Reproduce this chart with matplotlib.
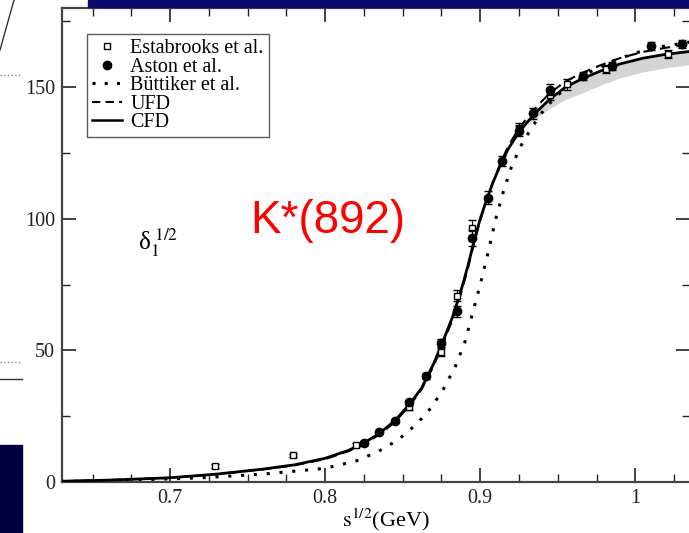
import matplotlib.pyplot as plt
import matplotlib.patches as mpatches
from matplotlib.lines import Line2D
from matplotlib.ticker import MultipleLocator

plt.rcParams['font.family'] = ['Liberation Serif', 'DejaVu Serif']
plt.rcParams['mathtext.fontset'] = 'stix'

# Estabrooks et al. (open squares)
est_x = [0.729, 0.779, 0.820, 0.854, 0.875, 0.885, 0.895, 0.925, 0.945, 0.956, 0.981, 1.021]
est_y = [6.1, 10.2, 14.0, 28.4, 49.5, 70.8, 96.5, 134.5, 147.0, 151.0, 157.0, 162.5]
est_err = [0.6, 0.6, 0.8, 1.0, 1.5, 2.0, 3.0, 2.0, 2.0, 2.0, 1.5, 1.5]

# Aston et al. (filled circles)
ast_x = [0.825, 0.835, 0.845, 0.854, 0.865, 0.875, 0.885, 0.895, 0.905, 0.914,
         0.925, 0.934, 0.945, 0.966, 0.985, 1.010, 1.030]
ast_y = [14.8, 18.9, 23.1, 30.3, 40.2, 52.7, 64.8, 92.8, 108.0, 122.0,
         133.3, 140.0, 149.0, 154.2, 158.0, 165.5, 166.3]
ast_err = [0.8, 0.8, 0.8, 1.0, 1.2, 1.5, 2.0, 3.0, 2.5, 2.0,
           2.0, 2.0, 2.0, 1.5, 1.5, 1.5, 1.5]

# CFD (solid)
cfd_x = [0.630, 0.660, 0.700, 0.730, 0.760, 0.780, 0.800, 0.815, 0.825, 0.835,
         0.845, 0.855, 0.862, 0.870, 0.876, 0.882, 0.887, 0.892, 0.896, 0.900,
         0.904, 0.908, 0.913, 0.918, 0.924, 0.930, 0.937, 0.945, 0.955, 0.965,
         0.977, 0.990, 1.005, 1.020, 1.036]
cfd_y = [0.3, 0.7, 1.6, 3.0, 4.9, 6.5, 9.0, 12.0, 14.8, 18.5,
         23.3, 30.0, 35.5, 45.0, 53.5, 62.5, 71.5, 82.0, 91.5, 100.0,
         107.0, 113.5, 120.5, 126.5, 132.0, 136.5, 141.0, 145.5, 150.0, 153.0,
         156.0, 158.8, 161.0, 162.5, 163.6]

# UFD (dashed)
ufd_x = [0.630, 0.660, 0.700, 0.730, 0.760, 0.780, 0.800, 0.815, 0.825, 0.835,
         0.845, 0.855, 0.862, 0.870, 0.876, 0.882, 0.887, 0.892, 0.896, 0.900,
         0.904, 0.908, 0.913, 0.918, 0.924, 0.930, 0.937, 0.945, 0.955, 0.965,
         0.977, 0.990, 1.005, 1.020, 1.036]
ufd_y = [0.3, 0.7, 1.6, 2.9, 4.8, 6.3, 8.7, 11.7, 14.4, 18.0,
         22.8, 29.4, 35.0, 44.2, 52.5, 61.5, 70.5, 81.0, 90.8, 99.5,
         106.8, 113.5, 121.0, 127.5, 133.5, 138.2, 143.0, 147.8, 152.2, 155.2,
         158.2, 161.0, 163.4, 165.0, 166.3]

# Buttiker et al. (dotted)
but_x = [0.630, 0.680, 0.720, 0.760, 0.800, 0.820, 0.834, 0.847, 0.859, 0.868,
         0.876, 0.884, 0.890, 0.895, 0.900, 0.905, 0.910, 0.915, 0.920, 0.926,
         0.933, 0.940, 0.948, 0.958, 0.970, 0.985, 1.000, 1.018, 1.036]
but_y = [0.2, 0.8, 1.6, 3.0, 5.2, 8.0, 11.5, 16.0, 22.0, 28.0,
         35.0, 44.0, 53.0, 64.0, 75.0, 87.0, 100.0, 110.5, 119.5, 127.5,
         134.5, 140.5, 146.0, 151.0, 155.5, 159.8, 163.0, 165.5, 167.2]

# uncertainty band around CFD
band_x = [0.930, 0.945, 0.956, 0.965, 0.977, 0.990, 1.005, 1.020, 1.036]
band_lo = [135.5, 142.0, 145.6, 147.6, 150.6, 153.5, 155.8, 157.4, 158.6]
band_hi = [137.5, 146.5, 151.2, 153.2, 156.2, 159.0, 161.3, 163.0, 164.3]

fig = plt.figure(figsize=(6.89, 5.33), dpi=100)
ax = fig.add_axes([0.090, 0.0957, 0.912, 0.889])

ax.fill_between(band_x, band_lo, band_hi, color='#d4d4d4', lw=0, zorder=1)
ax.plot(but_x, but_y, color='black', ls=(0, (1, 3.2)), lw=2.2, zorder=2)
ax.plot(ufd_x, ufd_y, color='black', ls=(0, (5, 3)), lw=1.5, zorder=2)
ax.plot(cfd_x, cfd_y, color='black', ls='-', lw=2.0, zorder=3)
ax.errorbar(est_x, est_y, yerr=est_err, fmt='s', ms=5, mfc='white', mec='black',
            mew=1.0, ecolor='black', elinewidth=0.8, capsize=3, zorder=4)
ax.errorbar(ast_x, ast_y, yerr=ast_err, fmt='o', ms=6, mfc='black', mec='black',
            ecolor='black', elinewidth=0.8, capsize=3, zorder=5)

ax.set_xlim(0.6303, 1.0355)
ax.set_ylim(0, 180)
ax.xaxis.set_minor_locator(MultipleLocator(0.025))
ax.yaxis.set_major_locator(MultipleLocator(50))
ax.yaxis.set_minor_locator(MultipleLocator(25))
ax.set_xticks([0.7, 0.8, 0.9, 1.0])
ax.set_xticklabels(['0.7', '0.8', '0.9', '1'])
ax.tick_params(which='both', direction='in', top=True, right=True,
               labelsize=14.5, colors='#222222', pad=5)
ax.tick_params(which='major', length=10, width=1.2)
ax.tick_params(which='minor', length=6, width=1.0)
for s in ax.spines.values():
    s.set_color('#444444')
    s.set_linewidth(1.6)

ax.set_xlabel(r'$\mathrm{s}^{1/2}$(GeV)', fontsize=16, labelpad=0)
ax.xaxis.set_label_coords(0.515, -0.052)

ax.text(0.1215, 0.505, r'δ$_1^{\ 1/2}$', transform=ax.transAxes,
        fontsize=18, ha='left', va='center')
ax.text(0.300, 0.550, 'K*(892)', transform=ax.transAxes, color='red',
        fontsize=33, family='Liberation Sans', ha='left', va='center')

handles = [
    Line2D([], [], marker='s', ls='none', ms=5, mfc='white', mec='black'),
    Line2D([], [], marker='o', ls='none', ms=6, mfc='black', mec='black'),
    Line2D([], [], color='black', ls=(0, (1, 3)), lw=2.2),
    Line2D([], [], color='black', ls=(0, (4, 2.5)), lw=1.5),
    Line2D([], [], color='black', lw=1.8),
]
labels = ['Estabrooks et al.', 'Aston et al.', 'Büttiker et al.', 'UFD', 'CFD']
leg = ax.legend(handles, labels, loc='upper left', bbox_to_anchor=(0.040, 0.945),
                fontsize=14.5, frameon=True, fancybox=False, handlelength=1.5,
                handletextpad=0.4, labelspacing=-0.03, borderpad=0.25,
                borderaxespad=0.0)
leg.get_frame().set_edgecolor('#333333')
leg.get_frame().set_linewidth(1.0)

# slide decorations around the cropped figure
fig.patches.append(mpatches.Rectangle((88 / 689, 1 - 7 / 533), 1 - 88 / 689, 7 / 533,
                                      transform=fig.transFigure, color='#0b0b6e', zorder=10))
fig.patches.append(mpatches.Rectangle((0, 0), 22 / 689, 88 / 533,
                                      transform=fig.transFigure, color='#000040', zorder=10))
fig.lines.append(Line2D([0, 20 / 689], [1 - 75 / 533] * 2, transform=fig.transFigure,
                        color='#888888', ls=':', lw=1.0))
fig.lines.append(Line2D([0, 20 / 689], [1 - 362 / 533] * 2, transform=fig.transFigure,
                        color='#888888', ls=':', lw=1.0))
fig.lines.append(Line2D([0, 22 / 689], [1 - 379 / 533] * 2, transform=fig.transFigure,
                        color='#333333', lw=1.0))
fig.lines.append(Line2D([0, 14 / 689], [1 - 50 / 533, 1.0], transform=fig.transFigure,
                        color='#333333', lw=1.0))

fig.savefig('out.png', dpi=100)
